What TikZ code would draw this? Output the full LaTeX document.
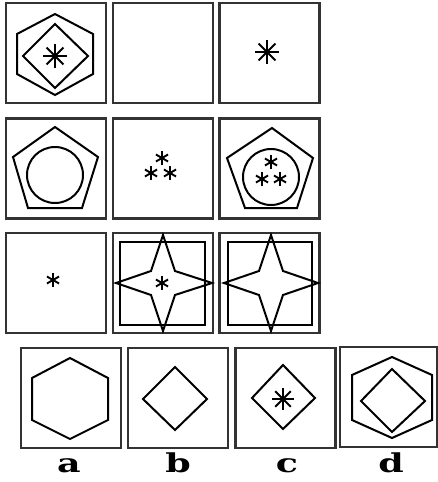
\documentclass[tikz,border=0pt]{standalone}
\usepackage{fontspec}
\newfontfamily\lblfont{DejaVu Serif}
\usetikzlibrary{positioning}

\newcommand{\asterbig}[2]{%
\foreach \ang in {0,45,90,135}
{\draw[aster] (#1) +(\ang:#2) -- +(\ang+180:#2);}
\fill (#1) circle (2);}
\newcommand{\astersmall}[1]{%
\foreach \ang in {30,90,150}
{\draw[aster] (#1) +(\ang:7) -- +(\ang+180:7);}}

\begin{document}
\begin{tikzpicture}[
x=1pt,y=-1pt,
cell/.style={draw=black!80, line width=2.4pt, minimum width=100pt, minimum height=100pt, inner sep=0pt},
fig/.style={draw, line width=2pt, line join=miter},
aster/.style={line width=1.9pt},
letter/.style={font=\fontsize{26}{26}\selectfont\lblfont\bfseries, xscale=1.4, anchor=base}
]

\useasboundingbox (0,0) rectangle (438,482);

%%%%%%%%%%%%%%%%%%%%%%%%%%%%%%%%%%%%%%%%%%%%%%%%%%%%%%
% ROW 1
%%%%%%%%%%%%%%%%%%%%%%%%%%%%%%%%%%%%%%%%%%%%%%%%%%%%%%

\node[cell] (r1a) at (56,53) {};
\node[cell] (r1b) at (163,53) {};
\node[cell] (r1c) at (269.5,53) {};

\draw[fig] (55,14) -- (93,34) -- (93,74) -- (55,95) -- (17,74) -- (17,34) -- cycle;
\draw[fig] (55,24) -- (88,56) -- (55,88) -- (23,56) -- cycle;
\asterbig{55,56}{12}

\asterbig{267,52}{12}

%%%%%%%%%%%%%%%%%%%%%%%%%%%%%%%%%%%%%%%%%%%%%%%%%%%%%%
% ROW 2
%%%%%%%%%%%%%%%%%%%%%%%%%%%%%%%%%%%%%%%%%%%%%%%%%%%%%%

\node[cell] (r2a) at (56,168.5) {};
\node[cell] (r2b) at (163,168.5) {};
\node[cell] (r2c) at (269.5,168.5) {};

\draw[fig] (55,127) -- (98,157) -- (82,208) -- (28,208) -- (13,157) -- cycle;
\draw[fig] (55,175) circle (28);

\astersmall{162,158}
\astersmall{151,173}
\astersmall{170,173}

\draw[fig] (272,128) -- (313,158) -- (297,208) -- (245,208) -- (227,158) -- cycle;
\draw[fig] (271,177) circle (28);
\astersmall{271,162}
\astersmall{262,179}
\astersmall{280,179}

%%%%%%%%%%%%%%%%%%%%%%%%%%%%%%%%%%%%%%%%%%%%%%%%%%%%%%
% ROW 3
%%%%%%%%%%%%%%%%%%%%%%%%%%%%%%%%%%%%%%%%%%%%%%%%%%%%%%

\node[cell] (r3a) at (56,283) {};
\node[cell] (r3b) at (163,283) {};
\node[cell] (r3c) at (269.5,283) {};

\astersmall{53,280}

\draw[fig] (120,242) rectangle (205,325);
\draw[fig] (163,235) -- (175,271) -- (212,283) -- (175,295) -- (163,331)
  -- (151,295) -- (116,283) -- (151,271) -- cycle;
\astersmall{162,283}

\draw[fig] (228,242) rectangle (312,325);
\draw[fig] (271,235) -- (283,271) -- (318,283) -- (283,295) -- (271,331)
  -- (259,295) -- (224,283) -- (259,271) -- cycle;

%%%%%%%%%%%%%%%%%%%%%%%%%%%%%%%%%%%%%%%%%%%%%%%%%%%%%%
% ANSWERS
%%%%%%%%%%%%%%%%%%%%%%%%%%%%%%%%%%%%%%%%%%%%%%%%%%%%%%

\node[cell] (ansa) at (71,398) {};
\node[cell] (ansb) at (178,398) {};
\node[cell] (ansc) at (285.5,398) {};
\node[cell, minimum width=97pt] (ansd) at (388.5,397) {};

\draw[fig] (70,358) -- (108,378) -- (108,420) -- (70,439) -- (32,420) -- (32,378) -- cycle;

\draw[fig] (175,367) -- (207,399) -- (175,430) -- (143,399) -- cycle;

\draw[fig] (283,365) -- (315,398) -- (283,429) -- (252,398) -- cycle;
\asterbig{283,399}{11}

\draw[fig] (392,357) -- (432,375) -- (432,420) -- (392,438) -- (352,420) -- (352,375) -- cycle;
\draw[fig] (392,369) -- (425,401) -- (392,432) -- (361,401) -- cycle;

\node[letter] (lbla) at (69,472) {a};
\node[letter] (lblb) at (178,472) {b};
\node[letter] (lblc) at (287,472) {c};
\node[letter] (lbld) at (391,472) {d};

\end{tikzpicture}
\end{document}
